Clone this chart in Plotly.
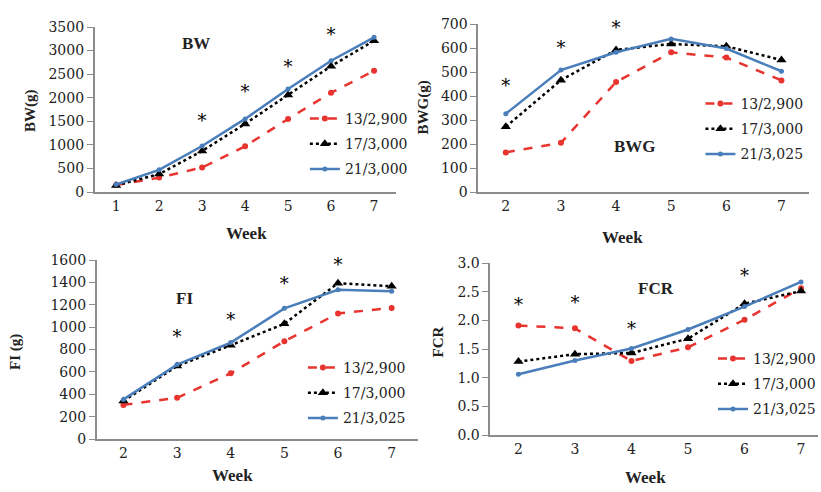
import plotly.graph_objects as go

W, H = 821, 492

series_names = ["13/2,900", "17/3,000", "21/3,000"]
series_names_b = ["13/2,900", "17/3,000", "21/3,025"]

# BW
bw_weeks = [1, 2, 3, 4, 5, 6, 7]
bw_13 = [150, 305, 520, 970, 1550, 2105, 2570]
bw_17 = [140, 380, 870, 1445, 2060, 2670, 3210]
bw_21 = [160, 470, 975, 1550, 2185, 2785, 3280]
bw_star_weeks = [3, 4, 5, 6, 7]
bw_star_vals = [1480, 2080, 2620, 3300, 3720]

# BWG
wk = [2, 3, 4, 5, 6, 7]
bwg_13 = [165, 205, 458, 582, 560, 465]
bwg_17 = [272, 466, 592, 617, 607, 550]
bwg_21 = [326, 508, 582, 638, 598, 503]
bwg_star_weeks = [2, 3, 4]
bwg_star_vals = [436, 594, 678]

# FI
fi_13 = [305, 368, 587, 874, 1122, 1172]
fi_17 = [340, 652, 838, 1030, 1393, 1365]
fi_21 = [354, 665, 862, 1168, 1333, 1320]
fi_star_weeks = [3, 4, 5, 6, 7]
fi_star_vals = [898, 1052, 1372, 1541, 1609]

# FCR
fcr_13 = [1.91, 1.86, 1.29, 1.53, 2.01, 2.56]
fcr_17 = [1.28, 1.41, 1.43, 1.68, 2.29, 2.51]
fcr_21 = [1.06, 1.30, 1.51, 1.84, 2.24, 2.67]
fcr_star_weeks = [2, 3, 4, 6]
fcr_star_vals = [2.24, 2.27, 1.82, 2.74]

RED = "#E8342F"
BLK = "#000000"
BLU = "#4A7EBB"
BFONT = "Liberation Serif"   # bold titles
RFONT = "DejaVu Serif"       # regular text

def px(x):
    return x / W

def py(y):
    return 1 - y / H

fig = go.Figure()

styles = [
    dict(color=RED, dash="dash", symbol="circle", size=6),
    dict(color=BLK, dash="dot", symbol="triangle-up", size=9),
    dict(color=BLU, dash="solid", symbol="circle", size=5),
]

panels = [
    dict(n="", x=bw_weeks, ys=[bw_13, bw_17, bw_21], names=series_names,
         sw=bw_star_weeks, sv=bw_star_vals, legend="legend"),
    dict(n="2", x=wk, ys=[bwg_13, bwg_17, bwg_21], names=series_names_b,
         sw=bwg_star_weeks, sv=bwg_star_vals, legend="legend2"),
    dict(n="3", x=wk, ys=[fi_13, fi_17, fi_21], names=series_names_b,
         sw=fi_star_weeks, sv=fi_star_vals, legend="legend3"),
    dict(n="4", x=wk, ys=[fcr_13, fcr_17, fcr_21], names=series_names_b,
         sw=fcr_star_weeks, sv=fcr_star_vals, legend="legend4"),
]

for pi, p in enumerate(panels):
    xa = "x" + p["n"]
    ya = "y" + p["n"]
    for si, (ys, nm, st) in enumerate(zip(p["ys"], p["names"], styles)):
        fig.add_trace(go.Scatter(
            x=p["x"], y=ys, name=nm, mode="lines+markers",
            xaxis=xa, yaxis=ya, legend=p["legend"], legendgroup=f"g{pi}_{si}",
            line=dict(color=st["color"], dash=st["dash"], width=2.5),
            marker=dict(symbol=st["symbol"], size=st["size"], color=st["color"]),
            cliponaxis=False,
        ))
    fig.add_trace(go.Scatter(
        x=p["sw"], y=p["sv"], mode="text", text=["*"] * len(p["sw"]),
        textposition="middle center", showlegend=False,
        textfont=dict(family=RFONT, size=18, color="#000"),
        xaxis=xa, yaxis=ya, cliponaxis=False, hoverinfo="skip",
    ))

def tickfont():
    return dict(family=RFONT, size=14, color="#222")

def xaxis(domain, rng, vals, anchor):
    return dict(domain=domain, range=rng, tickvals=vals, ticktext=[str(v) for v in vals],
                showline=True, linecolor="#8c8c8c", linewidth=1.5, ticks="",
                showgrid=False, zeroline=False, tickfont=tickfont(), anchor=anchor,
                fixedrange=True)

def yaxis(domain, rng, dtick, anchor, fmt=None):
    d = dict(domain=domain, range=rng, dtick=dtick, tick0=0,
             showline=True, linecolor="#8c8c8c", linewidth=1.5, ticks="outside",
             ticklen=6, tickcolor="#8c8c8c", showgrid=False, zeroline=False,
             tickfont=tickfont(), anchor=anchor, fixedrange=True)
    if fmt:
        d["tickformat"] = fmt
    return d

fig.update_layout(
    template="none",
    width=W, height=H, margin=dict(l=0, r=0, t=0, b=0),
    paper_bgcolor="white", plot_bgcolor="white",
    font=dict(family=RFONT, color="#222", size=14),
    xaxis=xaxis([px(95), px(397)], [0.5, 7.5], bw_weeks, "y"),
    yaxis=yaxis([py(192), py(27)], [0, 3500], 500, "x"),
    xaxis2=xaxis([px(480), px(812)], [1.5, 7.5], wk, "y2"),
    yaxis2=yaxis([py(192), py(24)], [0, 700], 100, "x2"),
    xaxis3=xaxis([px(97), px(420)], [1.5, 7.5], wk, "y3"),
    yaxis3=yaxis([py(439), py(260)], [0, 1600], 200, "x3"),
    xaxis4=xaxis([px(492), 1.0], [1.5, 7.30], wk, "y4"),
    yaxis4=yaxis([py(435), py(263)], [0, 3.0], 0.5, "x4", ".1f"),
    showlegend=True,
)

def leg(x, y):
    return dict(x=px(x), y=py(y), xanchor="left", yanchor="top",
                font=dict(family=RFONT, size=14, color="#222"),
                bgcolor="rgba(0,0,0,0)", itemwidth=30, tracegroupgap=4,
                traceorder="grouped")

fig.update_layout(
    legend=leg(306, 103),
    legend2=leg(703, 88),
    legend3=leg(304, 352),
    legend4=leg(716, 343),
)

anns = []
def ann(text, x, y, size, angle=0):
    anns.append(dict(text=text, x=px(x), y=py(y), xref="paper", yref="paper",
                     showarrow=False, textangle=angle, xanchor="center", yanchor="middle",
                     font=dict(family=BFONT, size=size, color="#222")))

# panel labels
ann("<b>BW</b>", 197, 43, 17)
ann("<b>BWG</b>", 637, 146, 17)
ann("<b>FI</b>", 185, 298, 17)
ann("<b>FCR</b>", 658, 288, 17)
# y titles
ann("<b>BW(g)</b>", 30, 110, 15, -90)
ann("<b>BWG(g)</b>", 425, 107, 15, -90)
ann("<b>FI (g)</b>", 15, 352, 15, -90)
ann("<b>FCR</b>", 440, 342, 15, -90)
# x titles
ann("<b>Week</b>", 247, 233, 17)
ann("<b>Week</b>", 625, 237, 17)
ann("<b>Week</b>", 233, 475, 17)
ann("<b>Week</b>", 648, 477, 17)

fig.update_layout(annotations=anns)

fig.write_html("out.html", config={"displayModeBar": False},
               post_script="document.body.style.margin='0';document.body.style.padding='0';")
